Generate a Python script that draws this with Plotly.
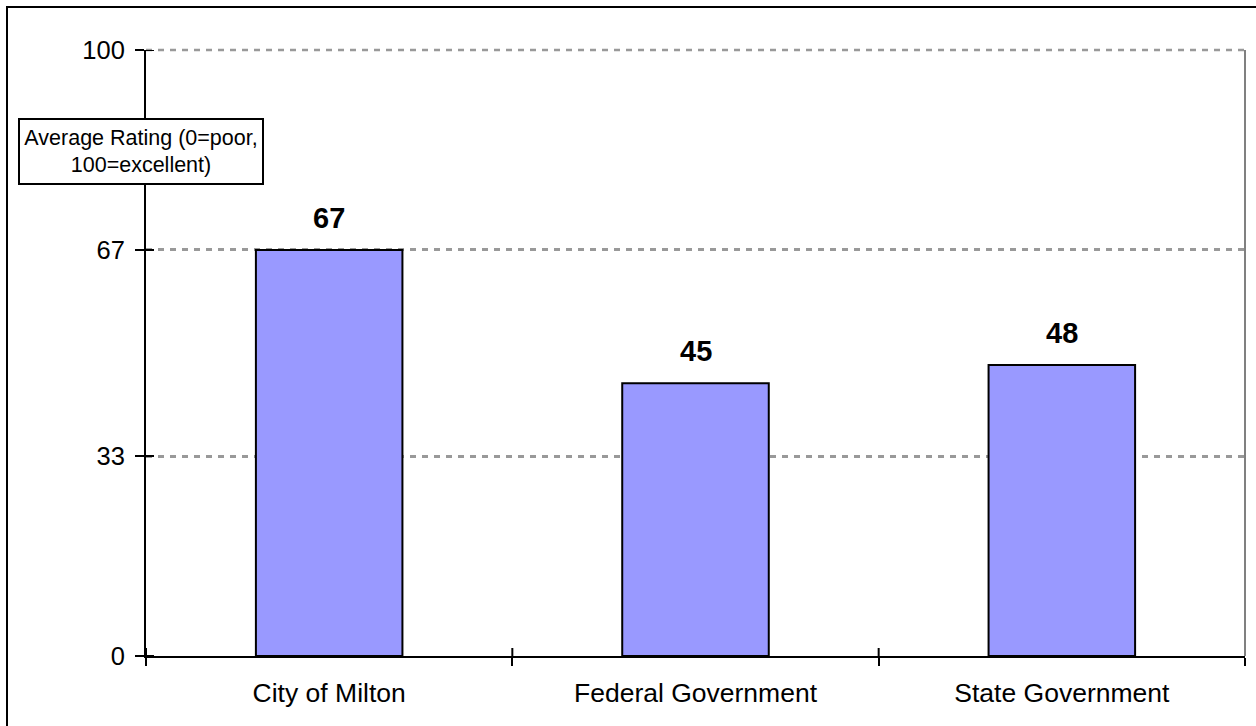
import plotly.graph_objects as go

# Survey results: average rating per level of government
categories = ["City of Milton", "Federal Government", "State Government"]
ratings = [67, 45, 48]
y_ticks = [0, 33, 67, 100]
y_title = "Average Rating (0=poor,<br>100=excellent)"

W, H = 1256, 726
ML, MR, MT, MB = 146, 11, 50, 70
PW, PH = W - ML - MR, H - MT - MB

FONT = "Liberation Sans, Arial, sans-serif"
GRID = "#999999"

fig = go.Figure(
    go.Bar(
        x=categories,
        y=ratings,
        width=0.4,
        marker=dict(color="#9999FF", line=dict(color="black", width=2)),
        hoverinfo="x+y",
    )
)

# value labels above each bar
for c, v in zip(categories, ratings):
    fig.add_annotation(
        x=c, y=v, text=f"<b>{v}</b>", showarrow=False,
        yanchor="bottom", yshift=14,
        font=dict(family=FONT, size=29, color="black"),
    )

# boxed axis title over the value axis
fig.add_annotation(
    xref="paper", yref="paper",
    x=(141 - ML) / PW, y=(MT + PH - 151.5) / PH,
    xanchor="center", yanchor="middle",
    text=y_title, showarrow=False, align="center",
    width=242, height=63,
    bgcolor="white", bordercolor="black", borderwidth=2, borderpad=0,
    font=dict(family=FONT, size=21.5, color="black"),
)

shapes = []
# dashed line along the top of the value range
shapes.append(dict(type="line", xref="paper", yref="paper",
                   x0=0, x1=1, y0=1, y1=1,
                   line=dict(color=GRID, width=2.5, dash="6px,6px")))
# inner halves of the crossing ticks on the value axis
for t in y_ticks:
    shapes.append(dict(type="line", xref="paper", yref="y",
                       x0=0, x1=8 / PW, y0=t, y1=t,
                       line=dict(color="black", width=2)))
# inner halves of the crossing ticks at category boundaries
for b in [-0.5, 0.5, 1.5, 2.5]:
    shapes.append(dict(type="line", xref="x", yref="paper",
                       x0=b, x1=b, y0=0, y1=8 / PH,
                       line=dict(color="black", width=2)))
# right edge of the plot area
shapes.append(dict(type="line", xref="paper", yref="paper",
                   x0=1, x1=1, y0=0, y1=1,
                   line=dict(color="#808080", width=2)))
# outer chart frame
shapes.append(dict(type="rect", xref="paper", yref="paper",
                   x0=(7 - ML) / PW, x1=(W + 10 - ML) / PW,
                   y0=(MT + PH - (H + 10)) / PH, y1=(MT + PH - 7) / PH,
                   line=dict(color="black", width=2), fillcolor="rgba(0,0,0,0)",
                   layer="below"))

fig.update_layout(
    width=W, height=H,
    margin=dict(l=ML, r=MR, t=MT, b=MB),
    paper_bgcolor="white", plot_bgcolor="white",
    showlegend=False,
    font=dict(family=FONT, size=25, color="black"),
    shapes=shapes,
    xaxis=dict(
        range=[-0.5, 2.5], type="category",
        showline=True, linecolor="black", linewidth=2,
        ticks="outside", tickson="boundaries", ticklen=8, tickwidth=2, tickcolor="black",
        ticklabelstandoff=12,
        showgrid=False, zeroline=False,
        tickfont=dict(family=FONT, size=26.5, color="black"),
    ),
    yaxis=dict(
        range=[0, 100], tickvals=y_ticks, ticktext=[str(t) for t in y_ticks],
        showline=True, linecolor="black", linewidth=2,
        ticks="outside", ticklen=9, tickwidth=2, tickcolor="black",
        ticklabelstandoff=5,
        showgrid=True, gridcolor=GRID, gridwidth=2.5, griddash="6px,6px",
        zeroline=False,
        tickfont=dict(family=FONT, size=25.5, color="black"),
    ),
)

fig.write_html("out.html")
